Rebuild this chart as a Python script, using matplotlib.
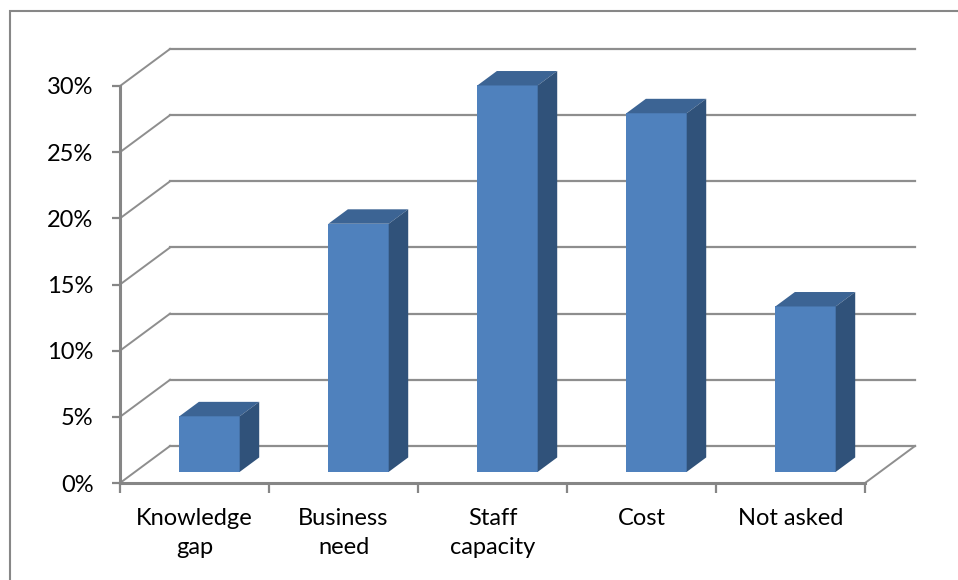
"""
Obstacles cités — histogramme en pseudo-3D (style tableur).
Les faces avant, dessus et côté de chaque colonne sont dessinées en
coordonnées de données, avec un décalage oblique pour la profondeur.
"""

import matplotlib.pyplot as plt
from matplotlib.patches import Polygon, Rectangle
from matplotlib.ticker import PercentFormatter

# --- Données ---
categories = ["Knowledge\ngap", "Business\nneed", "Staff\ncapacity", "Cost", "Not asked"]
shares = [4.2, 18.75, 29.2, 27.1, 12.5]   # en %
y_ticks = [0, 5, 10, 15, 20, 25, 30]

# --- Géométrie de la perspective (unités de données) ---
DEPTH_DX = 0.336     # décalage horizontal pour toute la profondeur (catégories)
DEPTH_DY = 2.8       # décalage vertical pour toute la profondeur (%)
BAR_W = 0.405
BAR_D0, BAR_D1 = 0.30, 0.69   # position des colonnes dans la profondeur

FRONT = "#4F81BD"
TOP = "#3C6494"
SIDE = "#30527A"
GRID = "#8E8E8E"
AXIS = "#868686"

plt.rcParams["font.family"] = ["Lato", "DejaVu Sans"]

fig = plt.figure(figsize=(9.58, 5.80), dpi=100)
ax = fig.add_axes([120 / 958, 97 / 580, 745 / 958, 397 / 580])
n = len(categories)
ax.set_xlim(0, n)
ax.set_ylim(0, 30)


def off(x, y, d):
    return (x + d * DEPTH_DX, y + d * DEPTH_DY)


# parois : quadrillage du fond + diagonales de la paroi gauche
for v in y_ticks:
    x0, y0 = off(0, v, 1)
    x1, y1 = off(n, v, 1)
    ax.plot([x0, x1], [y0, y1], color=GRID, lw=1.6, clip_on=False, zorder=1)
    ax.plot([0, x0], [v, y0], color=GRID, lw=1.4, clip_on=False, zorder=1)

# bord droit du plancher
xr, yr = off(n, 0, 1)
ax.plot([n, xr], [0, yr], color=GRID, lw=1.4, clip_on=False, zorder=1)

# colonnes
for i, v in enumerate(shares):
    cx = i + 0.5
    left = cx - BAR_W / 2
    right = cx + BAR_W / 2
    fx, fy = off(left, 0, BAR_D0)
    ax.add_patch(Rectangle((fx, fy), BAR_W, v, facecolor=FRONT,
                           edgecolor="none", clip_on=False, zorder=3))
    top = [off(left, v, BAR_D0), off(right, v, BAR_D0),
           off(right, v, BAR_D1), off(left, v, BAR_D1)]
    ax.add_patch(Polygon(top, closed=True, facecolor=TOP,
                         edgecolor="none", clip_on=False, zorder=3))
    side = [off(right, 0, BAR_D0), off(right, v, BAR_D0),
            off(right, v, BAR_D1), off(right, 0, BAR_D1)]
    ax.add_patch(Polygon(side, closed=True, facecolor=SIDE,
                         edgecolor="none", clip_on=False, zorder=3))

# axes
for s in ("top", "right"):
    ax.spines[s].set_visible(False)
for s in ("left", "bottom"):
    ax.spines[s].set_color(AXIS)
    ax.spines[s].set_linewidth(2.2)
    ax.spines[s].set_zorder(4)

ax.set_yticks(y_ticks)
ax.yaxis.set_major_formatter(PercentFormatter(xmax=100, decimals=0))
ax.tick_params(axis="y", length=6, width=1.6, color=AXIS, pad=13,
               labelsize=17, labelcolor="black")

ax.set_xticks(range(n + 1))
ax.set_xticklabels([])
ax.set_xticks([i + 0.5 for i in range(n)], minor=True)
ax.set_xticklabels(categories, minor=True, fontsize=17, linespacing=1.45)
ax.tick_params(axis="x", which="major", length=7, width=1.6, color=AXIS)
ax.tick_params(axis="x", which="minor", length=0, pad=18)

# cadre extérieur
fig.add_artist(Rectangle((10 / 958, -0.1), 1.2, (580 - 11) / 580 + 0.1,
                         transform=fig.transFigure, fill=False,
                         edgecolor="#878787", lw=1.5))

fig.savefig("out.png", dpi=100)
